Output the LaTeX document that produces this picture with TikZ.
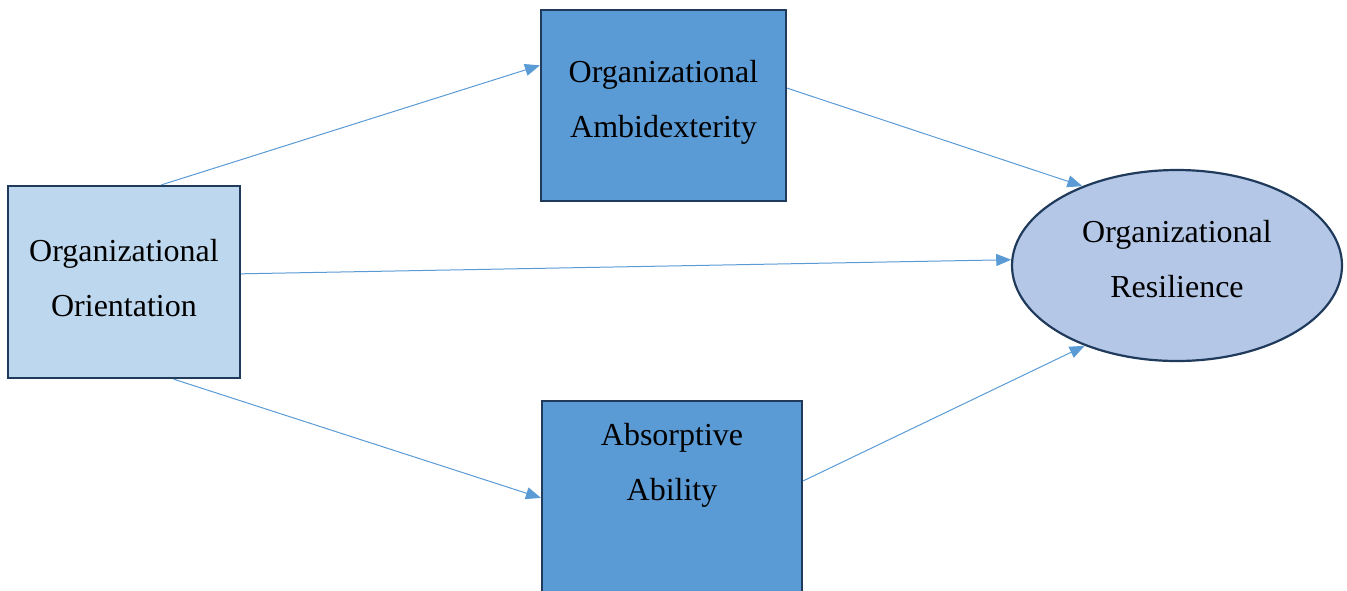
\documentclass[tikz,border=0pt]{standalone}
\usepackage{fontspec}
\setmainfont{Liberation Serif}
\usepackage{tikz}
\usetikzlibrary{shapes.geometric}
\usetikzlibrary{arrows.meta}
\usepackage{xcolor}
\definecolor{lightfill}{HTML}{BDD7EE}
\definecolor{darkfill}{HTML}{5B9BD5}
\definecolor{ellfill}{HTML}{B4C7E7}
\definecolor{edgeline}{HTML}{203A5C}
\definecolor{arrowline}{HTML}{5B9BD5}

\begin{document}
\begin{tikzpicture}[x=0.5pt,y=-0.5pt,
          box/.style={draw=edgeline,line width=1.1pt,inner sep=0pt},
          txt/.style={align=center,font=\fontsize{16}{27.5}\selectfont},
          link/.style={draw=arrowline,line width=0.5pt,-{Triangle[length=7.5pt,width=6pt]}}]
          \useasboundingbox (0,0) rectangle (1347,590);
          \node[box,fill=lightfill,minimum width=116pt,minimum height=96pt,
            label={[txt,yshift=2pt]center:Organizational\\Orientation}] (orient) at (124,282) {};
          \node[box,fill=darkfill,minimum width=122.5pt,minimum height=95.5pt,
            label={[txt,yshift=1.8pt]center:Organizational\\Ambidexterity}] (ambi) at (663.5,105.5) {};
          \node[box,fill=darkfill,minimum width=130pt,minimum height=120pt,
            label={[txt,yshift=28pt]center:Absorptive\\Ability}] (absorb) at (672,521) {};
          \node[box,ellipse,fill=ellfill,minimum width=165pt,minimum height=95.5pt,
            label={[txt,yshift=3pt]center:Organizational\\Resilience}] (resil) at (1177,265.5) {};
          \draw[link] (orient.69.4) -- (ambi.162.1);
          \draw[link] (ambi.8.1) -- (resil.140.8);
          \draw[link] (orient.4.4) -- (resil.178.4);
          \draw[link] (orient.-63.7) -- (absorb.170.5);
          \draw[link] (absorb.17.9) -- (resil.-139.8);
        \end{tikzpicture}
\end{document}
